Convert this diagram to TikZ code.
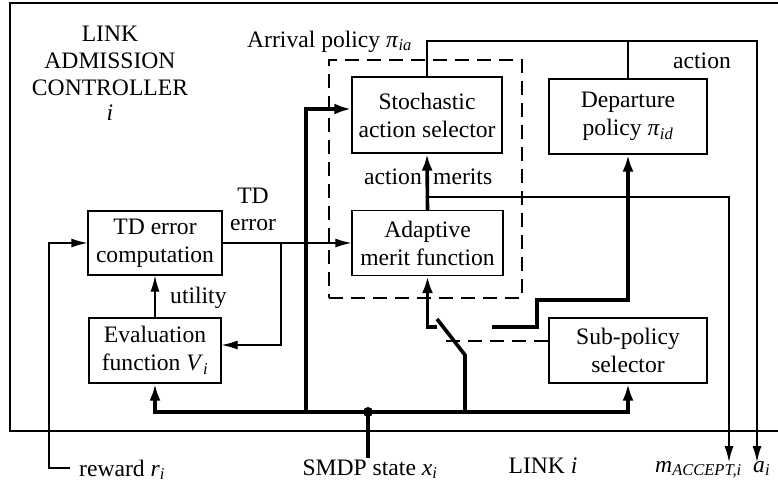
\documentclass[tikz,border=0pt]{standalone}
\usepackage{fontspec}
\setmainfont{Liberation Serif}
\usetikzlibrary{arrows.meta}
\newcommand\mysub[1]{\textsubscript{\textit{#1}}}
\begin{document}
\begin{tikzpicture}[x=1pt,y=-1pt,
  font=\fontsize{23.6}{28}\selectfont,
  box/.style={draw,line width=1.3pt,inner sep=0pt,align=center},
  thin/.style={line width=1.3pt},
  thk/.style={line width=3.6pt},
  tip/.style={-{Latex[length=16pt,width=9pt]}},
  ttip/.style={-{Latex[length=17pt,width=11pt]}},
  dsh/.style={line width=1.3pt,dash pattern=on 14pt off 8pt},
  lbl/.style={inner sep=0pt}]
\useasboundingbox (0,0) rectangle (778,491);

% outer frame (open on the right)
\draw[thin] (778,3) -- (10,3) -- (10,431) -- (778,431);

% title
\node[lbl,anchor=base] (t1) at (110,41) {LINK};
\node[lbl,anchor=base] (t2) at (110,68) {ADMISSION};
\node[lbl,anchor=base] (t3) at (110,95) {CONTROLLER};
\node[lbl,anchor=base] (t4) at (110,120) {\textit{i}};

% arrival policy dashed box
\node[draw,dsh,inner sep=0pt,minimum width=193pt,minimum height=238pt] (arrbox) at (425.5,179) {};
\node[lbl,anchor=base west] (arrlbl) at (247,47) {Arrival policy \textit{π}\mysub{ia}};

% boxes
\node[box,minimum width=150pt,minimum height=76pt] (stoch) at (427,115) {Stochastic\\action selector};
\node[box,minimum width=151pt,minimum height=65pt] (adapt) at (427.5,243) {Adaptive\\merit function};
\node[box,minimum width=158pt,minimum height=75pt] (depart) at (628,116.5) {Departure\\policy \textit{π}\mysub{id}};
\node[box,minimum width=134pt,minimum height=64pt] (td) at (155,243) {TD error\\computation};
\node[box,minimum width=132pt,minimum height=65pt] (eval) at (155,350.5) {Evaluation\\function \textit{V}\mysub{i}};
\node[box,minimum width=158pt,minimum height=65pt] (subpol) at (628,350.5) {Sub-policy\\selector};

% labels
\node[lbl,anchor=base west] (actlbl) at (673,68) {action};
\node[lbl,anchor=base east] (am1) at (422,184) {action};
\node[lbl,anchor=base west] (am2) at (433,184) {merits};
\node[lbl,anchor=base] (tde1) at (253,203) {TD};
\node[lbl,anchor=base] (tde2) at (253,230) {error};
\node[lbl,anchor=base west] (util) at (170,303) {utility};
\node[lbl,anchor=base west] (rew) at (79,476) {reward \textit{r}\mysub{i}};
\node[lbl,anchor=base] (smdp) at (370,475) {SMDP state \textit{x}\mysub{i}};
\node[lbl,anchor=base] (link) at (543,473) {LINK \textit{i}};
\node[lbl,anchor=base west] (macc) at (655,472) {\textit{m}\mysub{ACCEPT,i}};
\node[lbl,anchor=base west] (ai) at (753,472) {\textit{a}\mysub{i}};

% coordinates
\coordinate (topy) at (0,41);
\coordinate (aend) at (757,462);
\coordinate (mend) at (729,462);
\coordinate (am) at (428,197);
\coordinate (rw) at (70,468);
\coordinate (br) at (281,243);
\coordinate (dot) at (368,412);
\coordinate (smdpend) at (368,458);
\coordinate (bx1) at (306,412);
\coordinate (sw1) at (465,412);
\coordinate (sw2) at (465,355);
\coordinate (sw3) at (437,319);
\coordinate (cl) at (437,327);
\coordinate (cr) at (492,327);

% thin connectors
\draw[thin,tip] (stoch.north) -- (stoch.north |- topy) -| (aend);
\draw[thin] (depart.north) -- (depart.north |- topy);
\draw[thin,tip] (am) -| (mend);
\draw[thin,tip] (rw) -- ++(-21,0) |- (td.west);
\draw[thin,tip] (td.east) -- (adapt.west);
\draw[thin,tip] (br) |- ([yshift=5.5pt]eval.east);
\draw[thin,tip] (eval.north) -- (td.south);

% thick connectors
\draw[thk,ttip] (adapt.north) -- (stoch.south);
\draw[thk,ttip] (dot) -| (eval.south);
\draw[thk,ttip] (dot) -| (subpol.south);
\draw[thk] (dot) -- (smdpend);
\fill (dot) circle (5pt);
\draw[thk,ttip] (bx1) |- ([yshift=6pt]stoch.west);
\draw[thk] (sw1) -- (sw2) -- (sw3);
\draw[thk,ttip] (cl) -| (adapt.south);
\draw[thk,ttip] (cr) -- (537,327) -- (537,300) -| (depart.south);
\draw[dsh] ([yshift=9.5pt]subpol.west) -- (444,341);
\end{tikzpicture}
\end{document}
